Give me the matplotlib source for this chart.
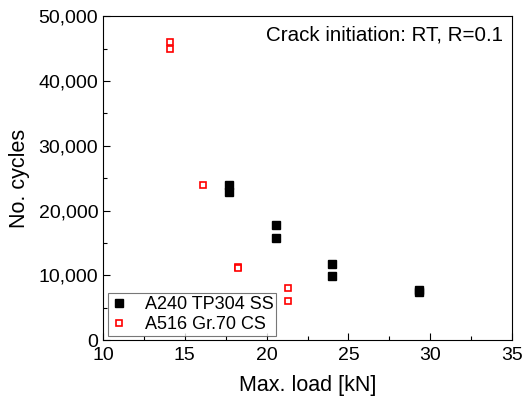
import matplotlib.pyplot as plt
from matplotlib.ticker import MultipleLocator, FuncFormatter

plt.rcParams['font.family'] = ['Liberation Sans', 'DejaVu Sans']

# A240 TP304 stainless steel
ss_load = [17.7, 17.7, 20.6, 20.6, 24.0, 24.0, 29.3, 29.3]
ss_cycles = [23900, 22800, 17700, 15800, 11700, 9900, 7800, 7400]

# A516 Gr.70 carbon steel
cs_load = [14.1, 14.1, 16.1, 18.25, 18.25, 21.3, 21.3]
cs_cycles = [46000, 45000, 24000, 11300, 11200, 8100, 6100]

fig = plt.figure(figsize=(5.23, 4.03), dpi=100)
ax = fig.add_axes([0.197, 0.156, 0.782, 0.804])

ax.plot(ss_load, ss_cycles, 's', color='black', markersize=5.3, linestyle='none',
        label='A240 TP304 SS')
ax.plot(cs_load, cs_cycles, 's', markerfacecolor='white', markeredgecolor='red',
        markeredgewidth=1.2, markersize=5, linestyle='none', label='A516 Gr.70 CS')

ax.set_xlim(10, 35)
ax.set_ylim(0, 50000)
ax.xaxis.set_major_locator(MultipleLocator(5))
ax.xaxis.set_minor_locator(MultipleLocator(2.5))
ax.yaxis.set_major_locator(MultipleLocator(10000))
ax.yaxis.set_minor_locator(MultipleLocator(5000))
ax.yaxis.set_major_formatter(FuncFormatter(lambda v, p: f'{int(v):,}'))
ax.tick_params(which='both', direction='in', top=False, right=False, labelsize=14)
ax.tick_params(axis='x', pad=5)
ax.tick_params(which='major', length=5, width=0.8)
ax.tick_params(which='minor', length=3, width=0.8)

ax.set_xlabel('Max. load [kN]', fontsize=15.5, labelpad=8)
ax.set_ylabel('No. cycles', fontsize=15.5, labelpad=6)

ax.text(0.978, 0.972, 'Crack initiation: RT, R=0.1', transform=ax.transAxes,
        ha='right', va='top', fontsize=14.8)

leg = ax.legend(loc='lower left', fontsize=13, frameon=True, fancybox=False,
                edgecolor='#555555', borderaxespad=0.25, handlelength=1.0,
                handletextpad=0.9, borderpad=0.15, labelspacing=0.15)
leg.get_frame().set_linewidth(0.8)

fig.savefig('out.png', dpi=100)
